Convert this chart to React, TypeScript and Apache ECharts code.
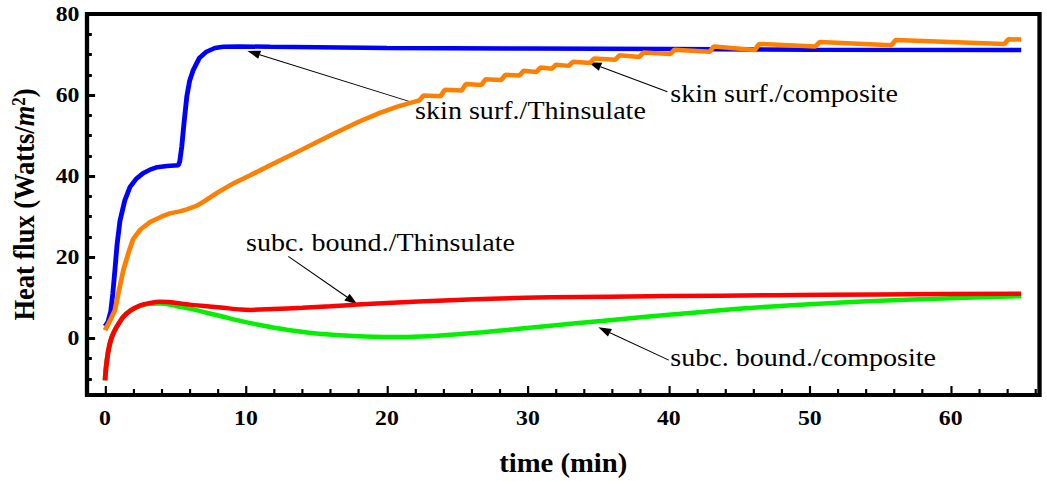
import React, { useEffect, useRef } from 'react';
import * as echarts from 'echarts';

// ---- data (time in min, heat flux in W/m^2) ----
const thinsulateSkin: [number, number][] = [
  [0, 3.0], [0.2, 4.0], [0.4, 6.5], [0.55, 11], [0.7, 16.8], [0.85, 23], [1.06, 29], [1.4, 34],
  [1.77, 37.3], [2.2, 39.3], [2.7, 40.7], [3.2, 41.6], [3.7, 42.2], [4.4, 42.5], [5.2, 42.7],
  [5.3, 43.6], [5.44, 47.2], [5.6, 53], [5.8, 59.6], [6.0, 63.5], [6.26, 66.2], [6.7, 69.2],
  [7.2, 70.7], [7.8, 71.6], [8.4, 71.9], [9.5, 72.0], [11.7, 71.9], [20, 71.6], [30, 71.5],
  [40, 71.35], [50, 71.2], [65, 71.1],
];

const compositeSkin: [number, number][] = [
  [0, 2], [0.3, 4], [0.7, 6.9], [1.0, 12], [1.3, 16.8], [1.7, 21.5], [2.0, 24.5], [2.5, 26.8],
  [3.2, 28.7], [4.0, 30], [4.6, 30.8], [5.3, 31.3], [5.8, 31.8], [6.5, 32.7], [7.0, 33.7],
  [8.0, 36], [9.1, 38.2], [10.3, 40.2], [12, 43.2], [14, 46.6], [16, 50.1], [18, 53.4],
  [19.5, 55.6], [20.8, 57.2],
  [22.3, 58.7], [22.6, 59.9], [23.8, 59.7], [24.1, 61.3], [25.3, 61.1], [25.6, 62.7],
  [26.7, 62.5], [27.0, 63.9], [28.1, 63.7], [28.4, 65.0], [29.4, 64.8], [29.7, 66.0],
  [30.6, 65.7], [30.9, 66.8], [31.7, 66.5], [32.0, 67.5], [32.9, 67.2], [33.2, 68.2],
  [34.4, 67.9], [34.7, 69.0], [36.2, 68.7], [36.5, 69.8], [37.9, 69.4], [38.2, 70.5],
  [40.1, 70.1], [40.4, 71.2], [42.9, 70.7], [43.2, 72.0], [46.1, 71.1], [46.4, 72.6],
  [50.4, 72.0], [50.7, 73.1], [55.8, 72.3], [56.1, 73.6], [63.8, 72.6], [64.1, 73.8],
  [65, 73.7],
];

const compositeSubc: [number, number][] = [
  [0, -10.4], [0.08, -7], [0.24, -3], [0.45, 0], [0.7, 2], [1.0, 3.8], [1.3, 5.3], [1.8, 6.8],
  [2.5, 8.0], [3.2, 8.5], [3.9, 8.6], [4.5, 8.4], [5.1, 7.9], [6.0, 7.3], [7.2, 6.3], [8.4, 5.3],
  [9.6, 4.3], [10.8, 3.4], [12, 2.6], [13.1, 2.0], [15, 1.2], [17, 0.7], [19, 0.4], [20.9, 0.3],
  [23, 0.5], [25, 1.0], [26.8, 1.5], [29, 2.2], [31.6, 3.1], [35.6, 4.4], [40, 5.8], [45, 7.3],
  [50, 8.4], [54.5, 9.2], [60, 9.9], [65, 10.4],
];

const thinsulateSubc: [number, number][] = [
  [0, -10.4], [0.08, -7], [0.24, -3], [0.45, 0], [0.7, 2], [1.0, 3.8], [1.3, 5.3], [1.8, 6.8],
  [2.5, 8.1], [3.2, 8.7], [3.9, 9.0], [4.5, 8.95], [5.1, 8.7], [6, 8.3], [7.2, 7.9], [8.4, 7.5],
  [9.6, 7.1], [10.3, 7.0], [11.9, 7.2], [14, 7.5], [16, 7.9], [17.9, 8.3], [20, 8.7],
  [24.5, 9.4], [28, 9.8], [31.6, 10.1], [40, 10.4], [47.4, 10.6], [55, 10.8], [65, 11.0],
];

// ---- axes ----
const xMajorTicks = [0, 10, 20, 30, 40, 50, 60];
const xMinorTicks = [2, 4, 6, 8, 12, 14, 16, 18, 22, 24, 26, 28, 32, 34, 36, 38, 42, 44, 46, 48, 52, 54, 56, 58, 62, 64, 66];
const yMajorTicks = [0, 20, 40, 60, 80];
const yMinorTicks = [-10, -5, 5, 10, 15, 25, 30, 35, 45, 50, 55, 65, 70, 75];

// ---- annotations: label anchor (left-middle), arrow tail, arrow tip, in data coords ----
const annotationTexts = ['skin surf./Thinsulate', 'skin surf./composite', 'subc. bound./Thinsulate', 'subc. bound./composite'];
const annotationLabelAt: [number, number][] = [[22.0, 56.2], [40.1, 60.3], [10.0, 23.7], [40.1, -4.6]];
const annotationTail: [number, number][] = [[21.8, 58.2], [39.9, 60.8], [13.0, 20.2], [40.0, -5.4]];
const annotationTip: [number, number][] = [[10.1, 70.9], [34.3, 68.1], [17.9, 8.4], [35.0, 2.7]];

const S = 1.08; // horizontal stretch of the original figure
const FULL_W = 1047;
const FULL_H = 481;
const W = FULL_W / S;
const SERIF = '"Liberation Serif", "Times New Roman", serif';

export default function App() {
  const ref = useRef<HTMLDivElement>(null);

  useEffect(() => {
    if (!ref.current) return;
    const chart = echarts.init(ref.current, undefined, { renderer: 'svg' });
    const tickLabel = { fontFamily: SERIF, fontWeight: 'bold' as const, fontSize: 22, color: '#000' };
    const noLine = { show: false, onZero: false };

    chart.setOption({
      animation: false,
      backgroundColor: '#fff',
      grid: {
        left: 87 / S,
        right: W - 1040 / S,
        top: 14,
        bottom: FULL_H - 395,
        show: true,
        borderColor: '#000',
        borderWidth: 4,
        backgroundColor: 'transparent',
        containLabel: false,
      },
      xAxis: [
        {
          type: 'value', min: -1.28, max: 66.3, position: 'bottom',
          axisLine: noLine, splitLine: { show: false },
          axisTick: { show: true, inside: true, length: 9, customValues: xMajorTicks, lineStyle: { color: '#000', width: 2 } },
          axisLabel: { ...tickLabel, customValues: xMajorTicks, margin: 12 },
          name: 'time (min)', nameLocation: 'middle', nameGap: 54,
          nameTextStyle: { fontFamily: SERIF, fontWeight: 'bold', fontSize: 26.5, color: '#000' },
        },
        {
          type: 'value', min: -1.28, max: 66.3, position: 'bottom',
          axisLine: noLine, splitLine: { show: false }, axisLabel: { show: false },
          axisTick: { show: true, inside: true, length: 6, customValues: xMinorTicks, lineStyle: { color: '#000', width: 2 } },
        },
      ],
      yAxis: [
        {
          type: 'value', min: -14, max: 80, position: 'left',
          axisLine: noLine, splitLine: { show: false },
          axisTick: { show: true, inside: true, length: 7.5, customValues: yMajorTicks, lineStyle: { color: '#000', width: 3 } },
          axisLabel: { ...tickLabel, customValues: yMajorTicks, margin: 7 },
          name: '{b|Heat flux (Watts/}{i|m}{sup|2}{b|)}', nameLocation: 'middle', nameGap: 45,
          nameTextStyle: {
            fontFamily: SERIF, fontWeight: 'bold', fontSize: 26.5, color: '#000',
            rich: {
              b: { fontFamily: SERIF, fontWeight: 'bold', fontSize: 26.5, color: '#000' },
              i: { fontFamily: SERIF, fontWeight: 'bold', fontStyle: 'italic', fontSize: 26.5, color: '#000' },
              sup: { fontFamily: SERIF, fontWeight: 'bold', fontSize: 17, color: '#000', verticalAlign: 'top' },
            },
          },
        },
        {
          type: 'value', min: -14, max: 80, position: 'left',
          axisLine: noLine, splitLine: { show: false }, axisLabel: { show: false },
          axisTick: { show: true, inside: true, length: 4.5, customValues: yMinorTicks, lineStyle: { color: '#000', width: 3 } },
        },
      ],
      series: [
        { name: 'skin surf./Thinsulate', type: 'line', data: thinsulateSkin, color: '#0000ff' },
        { name: 'skin surf./composite', type: 'line', data: compositeSkin, color: '#ff8000' },
        { name: 'subc. bound./composite', type: 'line', data: compositeSubc, color: '#00f000', smooth: 0.3 },
        { name: 'subc. bound./Thinsulate', type: 'line', data: thinsulateSubc, color: '#ff0000', smooth: 0.3 },
      ].map((s) => ({
        ...s,
        xAxisIndex: 0,
        yAxisIndex: 0,
        showSymbol: false,
        symbol: 'none',
        silent: true,
        lineStyle: { width: 4.5, color: s.color },
      })),
    });

    const px = (p: [number, number]) => chart.convertToPixel({ xAxisIndex: 0, yAxisIndex: 0 }, p) as number[];
    const graphics: any[] = [];
    annotationTexts.forEach((text, i) => {
      const tip = px(annotationTip[i]);
      const tail = px(annotationTail[i]);
      const lab = px(annotationLabelAt[i]);
      const dx = tip[0] - tail[0];
      const dy = tip[1] - tail[1];
      const len = Math.hypot(dx, dy);
      const ux = dx / len;
      const uy = dy / len;
      const headL = 12;
      const headW = 4.2;
      const bx = tip[0] - ux * headL;
      const by = tip[1] - uy * headL;
      graphics.push({
        type: 'line', silent: true,
        shape: { x1: tail[0], y1: tail[1], x2: bx, y2: by },
        style: { stroke: '#000', lineWidth: 1 },
      });
      graphics.push({
        type: 'polygon', silent: true,
        shape: { points: [[tip[0], tip[1]], [bx - uy * headW, by + ux * headW], [bx + uy * headW, by - ux * headW]] },
        style: { fill: '#000' },
      });
      graphics.push({
        type: 'text', silent: true, x: lab[0], y: lab[1],
        style: { text, fontFamily: SERIF, fontSize: 26, fill: '#000', align: 'left', verticalAlign: 'middle' },
      });
    });
    chart.setOption({ graphic: graphics });

    return () => chart.dispose();
  }, []);

  return (
    <div style={{ position: 'absolute', left: 0, top: 0, width: FULL_W, height: FULL_H, overflow: 'hidden', background: '#fff' }}>
      <div
        ref={ref}
        style={{ width: W, height: FULL_H, transform: `scaleX(${S})`, transformOrigin: '0 0' }}
      />
    </div>
  );
}
